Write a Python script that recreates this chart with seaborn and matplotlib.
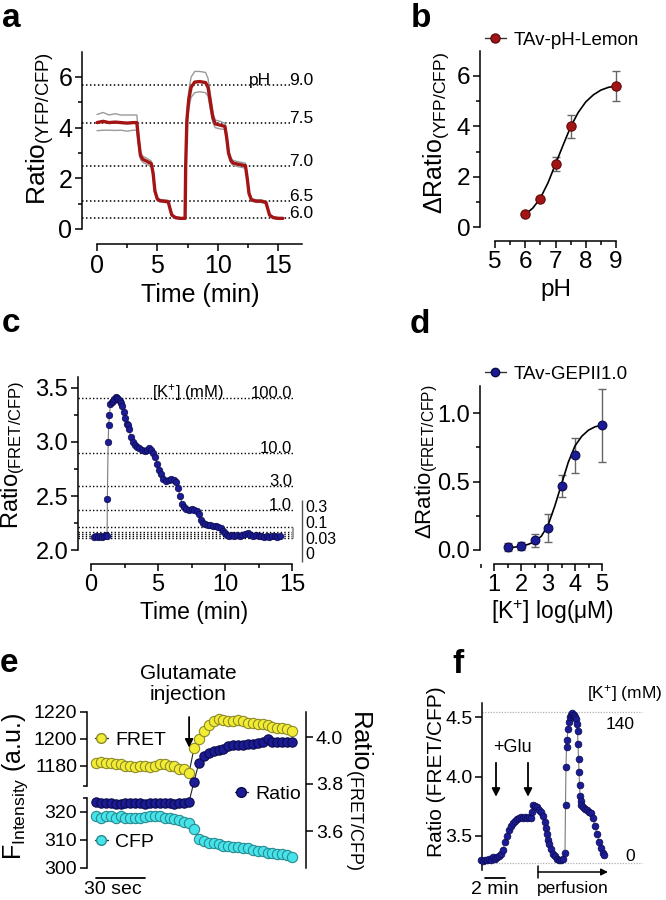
import numpy as np
import pandas as pd
import matplotlib
matplotlib.use("Agg")
import matplotlib.pyplot as plt
import matplotlib.transforms as mtrans
from matplotlib.lines import Line2D
from matplotlib.ticker import MultipleLocator, FormatStrFormatter
import seaborn as sns

# ---------------- data ----------------
# panel a: pH-Lemon ratio trace (mean and SEM)
a_time = [0, 0.5, 1.0, 1.5, 2.0, 2.5, 3.0, 3.3, 3.45, 3.6, 3.8, 4.1, 4.5, 4.65, 4.8, 5.0, 5.2, 5.5,
          5.9, 6.05, 6.2, 6.5, 6.9, 7.3, 7.35, 7.45, 7.6, 7.8, 8.1, 8.5, 9.0, 9.2, 9.4, 9.6, 9.8,
          10.2, 10.6, 10.75, 10.9, 11.1, 11.3, 11.8, 12.3, 12.45, 12.6, 12.8, 13.2, 13.6, 14.0,
          14.15, 14.3, 14.6, 15.0, 15.4]
a_mean = [4.2, 4.25, 4.2, 4.22, 4.2, 4.18, 4.2, 4.2, 3.5, 2.9, 2.75, 2.68, 2.58, 2.2, 1.5, 1.18,
          1.12, 1.1, 1.08, 0.8, 0.55, 0.45, 0.42, 0.42, 2.5, 4.3, 5.1, 5.6, 5.8, 5.82, 5.78, 5.6,
          5.0, 4.4, 4.15, 4.1, 4.05, 3.6, 3.0, 2.7, 2.6, 2.55, 2.5, 2.0, 1.4, 1.15, 1.1, 1.1, 1.05,
          0.8, 0.55, 0.45, 0.42, 0.42]
a_sem = [0.32, 0.35, 0.3, 0.33, 0.3, 0.32, 0.3, 0.3, 0.25, 0.15, 0.12, 0.12, 0.1, 0.08, 0.06,
         0.05, 0.05, 0.05, 0.05, 0.04, 0.03, 0.03, 0.03, 0.03, 0.1, 0.25, 0.35, 0.4, 0.42, 0.4,
         0.4, 0.35, 0.3, 0.2, 0.15, 0.15, 0.12, 0.12, 0.1, 0.1, 0.1, 0.1, 0.1, 0.08, 0.06, 0.05,
         0.05, 0.05, 0.05, 0.04, 0.03, 0.03, 0.03, 0.03]
a_levels = [5.7, 4.2, 2.5, 1.1, 0.45]
a_level_labels = ["9.0", "7.5", "7.0", "6.5", "6.0"]

# panel b: pH titration
b_ph = [6.0, 6.5, 7.0, 7.5, 9.0]
b_val = [0.5, 1.1, 2.5, 4.0, 5.6]
b_err = [0.05, 0.07, 0.28, 0.46, 0.61]
b_fit_ph = [6.0, 6.25, 6.5, 6.75, 7.0, 7.25, 7.5, 7.75, 8.0, 8.25, 8.5, 8.75, 9.0]
b_fit_val = [0.5, 0.75, 1.15, 1.75, 2.5, 3.25, 3.98, 4.55, 4.97, 5.25, 5.44, 5.55, 5.6]

# panel c: GEPII K+ calibration trace
c_time = [0.2, 0.35, 0.5, 0.65, 0.8, 0.95, 1.1, 1.2, 1.22, 1.28, 1.32, 1.38, 1.45, 1.55, 1.65,
          1.75, 1.85, 1.95, 2.05, 2.15, 2.25, 2.35, 2.45, 2.55, 2.65, 2.75, 2.85, 2.95, 3.1,
          3.25, 3.4, 3.6, 3.8, 4.0, 4.2, 4.35, 4.5, 4.65, 4.8, 4.95, 5.1, 5.25, 5.4, 5.6, 5.8,
          6.0, 6.2, 6.35, 6.5, 6.65, 6.8, 6.95, 7.1, 7.3, 7.5, 7.7, 7.9, 8.05, 8.2, 8.35, 8.5,
          8.7, 8.9, 9.1, 9.3, 9.5, 9.7, 9.85, 10.0, 10.15, 10.3, 10.5, 10.7, 10.9, 11.1, 11.3,
          11.5, 11.7, 11.9, 12.1, 12.3, 12.5, 12.7, 12.9, 13.1, 13.3, 13.5, 13.7, 13.9, 14.1]
c_ratio = [2.12, 2.13, 2.12, 2.13, 2.12, 2.13, 2.14, 2.13, 2.47, 3.0, 3.16, 3.25, 3.35, 3.37,
           3.38, 3.4, 3.42, 3.41, 3.4, 3.38, 3.36, 3.33, 3.28, 3.22, 3.17, 3.16, 3.12, 3.05,
           3.0, 2.97, 2.95, 2.94, 2.93, 2.92, 2.93, 2.94, 2.93, 2.9, 2.86, 2.8, 2.74, 2.7, 2.66,
           2.64, 2.65, 2.66, 2.65, 2.63, 2.57, 2.5, 2.43, 2.4, 2.38, 2.37, 2.38, 2.37, 2.36,
           2.33, 2.28, 2.25, 2.24, 2.23, 2.23, 2.22, 2.22, 2.21, 2.2, 2.18, 2.16, 2.14, 2.13,
           2.14, 2.13, 2.14, 2.13, 2.14, 2.15, 2.16, 2.14, 2.13, 2.14, 2.13, 2.13, 2.12, 2.13,
           2.12, 2.13, 2.13, 2.12, 2.13]
c_levels = [3.41, 2.90, 2.59, 2.37]
c_level_labels = ["100.0", "10.0", "3.0", "1.0"]
c_low_levels = [2.21, 2.165, 2.145, 2.127, 2.108]
c_low_labels = ["0.3", "0.1", "0.03", "0"]

# panel d: K+ titration
d_logk = [1.5, 2.0, 2.5, 3.0, 3.5, 4.0, 5.0]
d_val = [0.02, 0.03, 0.07, 0.16, 0.47, 0.69, 0.91]
d_err = [0.03, 0.03, 0.05, 0.1, 0.08, 0.125, 0.265]
d_fit_x = [1.5, 1.75, 2.0, 2.25, 2.5, 2.75, 3.0, 3.25, 3.5, 3.75, 4.0, 4.25, 4.5, 4.75, 5.0]
d_fit_y = [0.02, 0.02, 0.03, 0.04, 0.06, 0.1, 0.18, 0.32, 0.48, 0.64, 0.76, 0.83, 0.875, 0.9, 0.91]

# panel e: single cell glutamate response (3 s sampling)
e_time = [i * 3 for i in range(41)]
e_fret = [1182, 1183, 1182, 1182, 1181, 1181, 1180, 1180, 1179, 1180, 1180, 1179, 1180, 1181,
          1181, 1180, 1180, 1178, 1178, 1175, 1193, 1200, 1206, 1210, 1213, 1215, 1214, 1213,
          1213, 1214, 1213, 1212, 1212, 1211, 1211, 1210, 1209, 1208, 1208, 1207, 1206]
e_cfp = [318.5, 318, 318.5, 318.5, 318, 318.5, 318, 318, 318, 318, 318.2, 318.5, 318.5, 318.5,
         318, 318, 317.5, 317, 316.5, 316, 314, 310.5, 309.5, 309, 309, 308.5, 308, 308, 307.5,
         307.5, 307, 307, 306.5, 306, 306, 305.5, 305.5, 305, 305, 304.5, 304]
e_ratio = [3.725, 3.72, 3.72, 3.72, 3.715, 3.715, 3.72, 3.72, 3.72, 3.72, 3.715, 3.72, 3.72,
           3.72, 3.72, 3.72, 3.715, 3.72, 3.72, 3.725, 3.81, 3.89, 3.92, 3.93, 3.94, 3.945,
           3.95, 3.96, 3.965, 3.965, 3.965, 3.97, 3.97, 3.975, 3.98, 3.99, 3.98, 3.98, 3.98,
           3.98, 3.98]

# panel f: in-vivo style trace
f_time = [0.0, 0.2, 0.4, 0.6, 0.8, 1.0, 1.2, 1.4, 1.6, 1.8, 2.0, 2.2, 2.4, 2.6, 2.8, 3.0, 3.2,
          3.4, 3.6, 3.8, 4.0, 4.2, 4.4, 4.6, 4.8, 5.0, 5.1, 5.2, 5.4, 5.6, 5.8, 6.0, 6.2, 6.4,
          6.5, 6.6, 6.7, 6.8, 7.0, 7.2, 7.4, 7.6, 7.8, 8.0, 8.2, 8.4, 8.45, 8.5, 8.55, 8.6, 8.7,
          8.8, 8.9, 9.0, 9.1, 9.2, 9.3, 9.4, 9.5, 9.6, 9.65, 9.7, 9.75, 9.8, 9.85, 9.9, 9.95,
          10.0, 10.2, 10.4, 10.6, 10.8, 11.0, 11.2, 11.4, 11.6, 11.8, 12.0, 12.2, 12.3]
f_ratio = [3.30, 3.29, 3.30, 3.30, 3.31, 3.30, 3.32, 3.31, 3.32, 3.33, 3.35, 3.38, 3.45, 3.50,
           3.55, 3.58, 3.61, 3.63, 3.64, 3.65, 3.66, 3.65, 3.66, 3.65, 3.66, 3.65, 3.70, 3.76,
           3.75, 3.74, 3.72, 3.70, 3.67, 3.62, 3.57, 3.52, 3.47, 3.43, 3.39, 3.35, 3.33, 3.31,
           3.30, 3.30, 3.31, 3.36, 3.76, 4.08, 4.25, 4.31, 4.40, 4.46, 4.50, 4.52, 4.53, 4.52,
           4.52, 4.50, 4.48, 4.44, 4.38, 4.27, 4.15, 4.04, 3.93, 3.84, 3.79, 3.76, 3.74, 3.73,
           3.72, 3.70, 3.69, 3.65, 3.58, 3.52, 3.45, 3.40, 3.36, 3.34]
f_levels = [4.545, 3.27]
f_level_labels = ["140", "0"]
f_glu_times = [1.5, 4.7]

# ---------------- style ----------------
sns.set_theme(style="ticks")
plt.rcParams["font.family"] = ["Liberation Sans", "DejaVu Sans"]
plt.rcParams["mathtext.fontset"] = "custom"
plt.rcParams["mathtext.rm"] = "Liberation Sans"
plt.rcParams["mathtext.it"] = "Liberation Sans:italic"
plt.rcParams["mathtext.bf"] = "Liberation Sans:bold"
for k in ["text.color", "axes.labelcolor", "xtick.color", "ytick.color", "axes.edgecolor"]:
    plt.rcParams[k] = "black"

RED = "#a31515"
RED_EDGE = "#5e0b0b"
NAVY = "#1b1b96"
NAVY_EDGE = "#0b0b4a"
YEL = "#f3ec34"
YEL_EDGE = "#8c8a2a"
CYAN = "#45e3ea"
CYAN_EDGE = "#2a8a90"
DOT = (0, (1.0, 1.6))

W, H = 666, 900
fig = plt.figure(figsize=(W / 100, H / 100), dpi=100)
fig.patch.set_facecolor("white")


def FX(x):
    return x / W


def FY(y):
    return 1 - y / H


def px_axes(box, xa0, xa1, ya0, ya1):
    l, t, r, b = box
    ax = fig.add_axes([l / W, 1 - b / H, (r - l) / W, (b - t) / H])
    (p0, v0), (p1, v1) = xa0, xa1
    sx = (v1 - v0) / (p1 - p0)
    ax.set_xlim(v0 + (l - p0) * sx, v0 + (r - p0) * sx)
    (q0, w0), (q1, w1) = ya0, ya1
    sy = (w1 - w0) / (q1 - q0)
    ax.set_ylim(w0 + (b - q0) * sy, w0 + (t - q0) * sy)
    ax.patch.set_alpha(0)
    return ax


def style_axis(ax, lsize, left=True, bottom=True, right=False, ybounds=None, xbounds=None):
    for s in ax.spines.values():
        s.set_visible(False)
        s.set_linewidth(1.1)
    if left:
        ax.spines["left"].set_visible(True)
        if ybounds:
            ax.spines["left"].set_bounds(*ybounds)
    if right:
        ax.spines["right"].set_visible(True)
        if ybounds:
            ax.spines["right"].set_bounds(*ybounds)
        ax.yaxis.tick_right()
    if bottom:
        ax.spines["bottom"].set_visible(True)
        if xbounds:
            ax.spines["bottom"].set_bounds(*xbounds)
    else:
        ax.tick_params(axis="x", which="both", bottom=False, labelbottom=False)
    if not left and not right:
        ax.tick_params(axis="y", which="both", left=False, labelleft=False)
    ax.tick_params(which="both", direction="out", width=1.1, labelsize=lsize, pad=2)
    ax.tick_params(which="major", length=5)
    ax.tick_params(which="minor", length=3)
    ax.set_xlabel("")
    ax.set_ylabel("")


def panel_label(x, y, s):
    fig.text(FX(x), FY(y), s, fontsize=24, fontweight="bold", ha="left", va="baseline")


# ================= panel a =================
axA = px_axes((82, 52, 302, 244), (97, 0), (278, 15), (229, 0), (77, 6))
xl = axA.get_xlim()[0]
axA.hlines(a_levels, xl, 16.0, colors="black", linestyles=DOT, lw=1.1, clip_on=False, zorder=1)
up = [m + s for m, s in zip(a_mean, a_sem)]
lo = [m - s for m, s in zip(a_mean, a_sem)]
sns.lineplot(x=a_time, y=up, ax=axA, color="#9a9a9a", lw=1.0, estimator=None, sort=False, zorder=2)
sns.lineplot(x=a_time, y=lo, ax=axA, color="#9a9a9a", lw=1.0, estimator=None, sort=False, zorder=2)
sns.lineplot(x=a_time, y=a_mean, ax=axA, color=RED, lw=2.4, estimator=None, sort=False, zorder=3)
for lev, lab in zip(a_levels, a_level_labels):
    axA.text(17.95, lev, lab, ha="right", va="baseline", fontsize=12.5, clip_on=False)
axA.text(13.5, a_levels[0], "pH", ha="center", va="baseline", fontsize=12.5)
style_axis(axA, 18, ybounds=(0, 7), xbounds=(0, 17))
axA.set_yticks([0, 2, 4, 6])
axA.yaxis.set_minor_locator(MultipleLocator(1))
axA.set_xticks([0, 5, 10, 15])
axA.xaxis.set_minor_locator(MultipleLocator(2.5))
fig.text(FX(200), FY(295), "Time (min)", fontsize=18, ha="center", va="center")
fig.text(FX(40), FY(128), r"Ratio$_{\mathregular{(YFP/CFP)}}$", fontsize=19, rotation=90,
         ha="center", va="center")
panel_label(2, 27, "a")

# ================= panel b =================
axB = px_axes((480, 51, 625, 241), (495, 5), (616, 9), (227, 0), (76, 6))
axB.errorbar(b_ph, b_val, yerr=b_err, fmt="none", ecolor="#666666", elinewidth=1.0, capsize=3,
             capthick=1.0, zorder=2)
sns.lineplot(x=b_fit_ph, y=b_fit_val, ax=axB, color="black", lw=1.2, estimator=None, sort=False,
             zorder=3)
sns.scatterplot(x=b_ph, y=b_val, ax=axB, color=RED, edgecolor=RED_EDGE, linewidth=0.8, s=45,
                zorder=4)
style_axis(axB, 17.5, ybounds=(0, 7), xbounds=(5, 9))
axB.set_yticks([0, 2, 4, 6])
axB.yaxis.set_minor_locator(MultipleLocator(1))
axB.set_xticks([5, 6, 7, 8, 9])
axB.xaxis.set_minor_locator(MultipleLocator(0.5))
hb = Line2D([], [], color="#333333", lw=1.0, marker="o", markersize=6.5, markerfacecolor=RED,
            markeredgecolor=RED_EDGE)
axB.legend(handles=[hb], labels=["TAv-pH-Lemon"], loc="center left",
           bbox_to_anchor=(FX(485), FY(40)), bbox_transform=fig.transFigure, frameon=False,
           fontsize=13.5, handlelength=1.1, handletextpad=0.4, borderpad=0, borderaxespad=0)
fig.text(FX(556), FY(290), "pH", fontsize=17.5, ha="center", va="center")
fig.text(FX(436), FY(133), "Δ" + r"Ratio$_{\mathregular{(YFP/CFP)}}$", fontsize=18, rotation=90,
         ha="center", va="center")
panel_label(411, 27, "b")

# ================= panel c =================
axC = px_axes((78, 377, 294, 564), (91, 0), (292, 15), (550, 2.0), (388, 3.5))
xl = axC.get_xlim()[0]
axC.hlines(c_levels + c_low_levels, xl, 15.07, colors="black", linestyles=DOT, lw=1.0,
           clip_on=False, zorder=1)
axC.vlines(15.07, min(c_low_levels), max(c_low_levels), colors="#a0a0a0", lw=2.2, zorder=1)
axC.vlines(15.75, 1.89, 2.46, colors="#555555", lw=1.0, clip_on=False)
for lev, lab in zip(c_levels, c_level_labels):
    axC.text(15.0, lev, lab, ha="right", va="baseline", fontsize=12, clip_on=False)
axC.text(7.25, c_levels[0], r"[K$^{+}$] (mM)", ha="center", va="baseline", fontsize=12)
for ypos, lab in zip([2.39, 2.245, 2.10, 1.955], c_low_labels):
    axC.text(15.97, ypos, lab, ha="left", va="center", fontsize=11.5, clip_on=False)
sns.lineplot(x=c_time, y=c_ratio, ax=axC, color="#7a7a7a", lw=0.8, estimator=None, sort=False,
             zorder=2)
sns.scatterplot(x=c_time, y=c_ratio, ax=axC, color=NAVY, edgecolor=NAVY_EDGE, linewidth=0.5,
                s=22, zorder=3)
style_axis(axC, 17, ybounds=(2.0, 3.6), xbounds=(0, 15))
axC.set_yticks([2.0, 2.5, 3.0, 3.5])
axC.yaxis.set_major_formatter(FormatStrFormatter("%.1f"))
axC.yaxis.set_minor_locator(MultipleLocator(0.25))
axC.set_xticks([0, 5, 10, 15])
axC.xaxis.set_minor_locator(MultipleLocator(2.5))
fig.text(FX(194), FY(613), "Time (min)", fontsize=16.5, ha="center", va="center")
fig.text(FX(13), FY(455), r"Ratio$_{\mathregular{(FRET/CFP)}}$", fontsize=17, rotation=90,
         ha="center", va="center")
panel_label(2, 332, "c")

# ================= panel d =================
axD = px_axes((480, 386, 612, 564), (494, 1), (602, 5), (550, 0), (413, 1.0))
axD.errorbar(d_logk, d_val, yerr=d_err, fmt="none", ecolor="#666666", elinewidth=1.0, capsize=3,
             capthick=1.0, zorder=2)
sns.lineplot(x=d_fit_x, y=d_fit_y, ax=axD, color="black", lw=1.2, estimator=None, sort=False,
             zorder=3)
sns.scatterplot(x=d_logk, y=d_val, ax=axD, color=NAVY, edgecolor=NAVY_EDGE, linewidth=0.8, s=40,
                zorder=4)
style_axis(axD, 17, ybounds=(0, 1.2), xbounds=(1, 5))
axD.set_yticks([0.0, 0.5, 1.0])
axD.yaxis.set_major_formatter(FormatStrFormatter("%.1f"))
axD.yaxis.set_minor_locator(MultipleLocator(0.25))
axD.set_xticks([1, 2, 3, 4, 5])
axD.xaxis.set_minor_locator(MultipleLocator(0.5))
hd = Line2D([], [], color="#333333", lw=1.0, marker="o", markersize=6, markerfacecolor=NAVY,
            markeredgecolor=NAVY_EDGE)
axD.legend(handles=[hd], labels=["TAv-GEPII1.0"], loc="center left",
           bbox_to_anchor=(FX(485), FY(374)), bbox_transform=fig.transFigure, frameon=False,
           fontsize=13.5, handlelength=1.1, handletextpad=0.4, borderpad=0, borderaxespad=0)
fig.text(FX(553), FY(612), r"[K$^{+}$] log(μM)", fontsize=16.5, ha="center", va="center")
fig.text(FX(427), FY(462), "Δ" + r"Ratio$_{\mathregular{(FRET/CFP)}}$", fontsize=16,
         rotation=90, ha="center", va="center")
panel_label(410, 333, "d")

# ================= panel e =================
ex = ((96, 0), (145, 30))
axEF = px_axes((87, 712, 306, 786), *ex, (712, 1220), (766, 1180))
axEC = px_axes((87, 796, 306, 868), *ex, (812, 320), (868, 300))
axER = px_axes((87, 712, 306, 868), *ex, (737, 4.0), (831, 3.6))

for ax, yv, fc, ec, sz in [(axEF, e_fret, YEL, YEL_EDGE, 55), (axEC, e_cfp, CYAN, CYAN_EDGE, 55),
                           (axER, e_ratio, NAVY, NAVY_EDGE, 45)]:
    sns.lineplot(x=e_time, y=yv, ax=ax, color="#222222", lw=0.8, estimator=None, sort=False,
                 zorder=2)
    sns.scatterplot(x=e_time, y=yv, ax=ax, color=fc, edgecolor=ec, linewidth=0.8, s=sz,
                    zorder=3, clip_on=False)

style_axis(axEF, 14, left=True, bottom=False, ybounds=(1165, 1220))
axEF.set_yticks([1180, 1200, 1220])
axEF.set_yticks([1165], minor=True)
style_axis(axEC, 14, left=True, bottom=False, ybounds=(300, 325))
axEC.set_yticks([300, 310, 320])
axEC.set_yticks([325], minor=True)
style_axis(axER, 14, left=False, bottom=False, right=True, ybounds=axER.get_ylim())
axER.tick_params(axis="y", which="both", left=False, labelleft=False, right=True,
                 labelright=True)
axER.set_yticks([3.6, 3.8, 4.0])
axER.yaxis.set_major_formatter(FormatStrFormatter("%.1f"))

for ax, lab, fc, ec, pos in [(axEF, "FRET", YEL, YEL_EDGE, (95, 740)),
                             (axEC, "CFP", CYAN, CYAN_EDGE, (95, 842)),
                             (axER, "Ratio", NAVY, NAVY_EDGE, (235, 794))]:
    h = Line2D([], [], color="#333333", lw=1.0, marker="o", markersize=7, markerfacecolor=fc,
               markeredgecolor=ec)
    ax.legend(handles=[h], labels=[lab], loc="center left", bbox_to_anchor=(FX(pos[0]), FY(pos[1])),
              bbox_transform=fig.transFigure, frameon=False, fontsize=14, handlelength=0.65,
              handletextpad=0.4, borderpad=0, borderaxespad=0)

fig.text(FX(188), FY(684), "Glutamate\ninjection", fontsize=15, ha="center", va="center",
         linespacing=1.15)
axER.annotate("", xy=(57, 3.955), xytext=(57, 4.085),
              arrowprops=dict(arrowstyle="-|>", color="black", lw=1.3, mutation_scale=12,
                              shrinkA=0, shrinkB=0), annotation_clip=False)
bt = mtrans.blended_transform_factory(axER.transData, fig.transFigure)
axER.plot([0, 30], [FY(878), FY(878)], color="black", lw=1.3, transform=bt, clip_on=False)
axER.text(10.5, FY(890), "30 sec", transform=bt, fontsize=14, ha="center", va="center")
fig.text(FX(15), FY(786), r"F$_{\mathregular{Intensity}}$ (a.u.)", fontsize=18, rotation=90,
         ha="center", va="center")
fig.text(FX(359), FY(790), r"Ratio$_{\mathregular{(FRET/CFP)}}$", fontsize=18.5, rotation=270,
         ha="center", va="center")
panel_label(0, 672, "e")

# ================= panel f =================
axF = px_axes((482, 703, 645, 870), (481, 0), (491, 1), (717, 4.5), (836, 3.5))
xl = axF.get_xlim()[0]
axF.hlines(f_levels, xl, 16.1, colors="#b0b0b0", linestyles=(0, (1.0, 1.2)), lw=0.9, zorder=1)
sns.lineplot(x=f_time, y=f_ratio, ax=axF, color="#7a7a7a", lw=0.8, estimator=None, sort=False,
             zorder=2)
sns.scatterplot(x=f_time, y=f_ratio, ax=axF, color=NAVY, edgecolor=NAVY_EDGE, linewidth=0.5,
                s=24, zorder=3, clip_on=False)
style_axis(axF, 14, left=True, bottom=False, ybounds=axF.get_ylim())
axF.set_yticks([3.5, 4.0, 4.5])
axF.yaxis.set_major_formatter(FormatStrFormatter("%.1f"))
axF.text(10.6, 4.70, r"[K$^{+}$] (mM)", fontsize=12.5, ha="left", va="center", clip_on=False)
axF.text(13.9, 4.433, f_level_labels[0], fontsize=12.5, ha="center", va="center")
axF.text(14.9, 3.324, f_level_labels[1], fontsize=12.5, ha="center", va="center")
axF.text(3.1, 4.24, "+Glu", fontsize=13, ha="center", va="center")
for tg in f_glu_times:
    axF.annotate("", xy=(tg, 3.83), xytext=(tg, 4.115),
                 arrowprops=dict(arrowstyle="-|>", color="black", lw=1.3, mutation_scale=12,
                                 shrinkA=0, shrinkB=0))
bf = mtrans.blended_transform_factory(axF.transData, fig.transFigure)
axF.plot([0.4, 2.4], [FY(878), FY(878)], color="black", lw=1.3, transform=bf, clip_on=False)
axF.text(1.4, FY(890), "2 min", transform=bf, fontsize=14, ha="center", va="center")
axF.annotate("", xy=(12.7, FY(872)), xytext=(5.7, FY(872)), xycoords=bf, textcoords=bf,
             arrowprops=dict(arrowstyle="-|>", color="black", lw=1.1, mutation_scale=10,
                             shrinkA=0, shrinkB=0), annotation_clip=False)
axF.plot([5.7, 5.7], [FY(866), FY(878)], color="black", lw=1.1, transform=bf, clip_on=False)
axF.text(9.2, FY(888), "perfusion", transform=bf, fontsize=12.5, ha="center", va="center")
fig.text(FX(436), FY(772), "Ratio (FRET/CFP)", fontsize=15, rotation=90, ha="center",
         va="center")
panel_label(452, 673, "f")

fig.savefig("out.png", dpi=100, facecolor="white")
